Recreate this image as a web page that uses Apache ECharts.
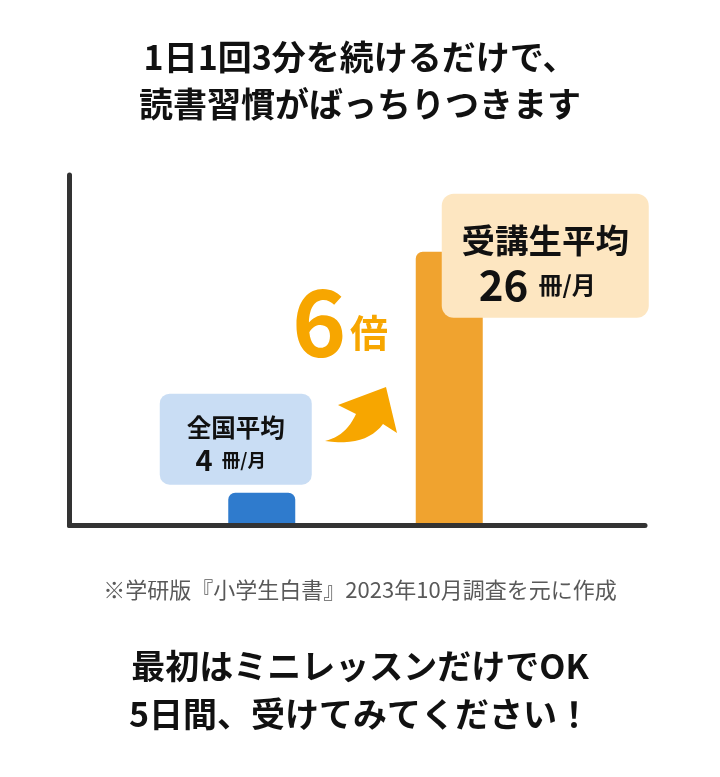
<!DOCTYPE html>
<html>
<head>
<meta charset="utf-8">
<script src="https://cdn.jsdelivr.net/npm/echarts@6/dist/echarts.min.js"></script>
<style>
html,body{margin:0;padding:0;background:#fff;}
#c{width:720px;height:777px;}
</style>
</head>
<body>
<div id="c"></div>
<script>
const categories = ['全国平均', '受講生平均'];
const values = [4, 26];
const unit = '冊/月';
const barColors = ['#2F7BCD', '#F0A32F'];
const boxColors = ['#C9DDF4', '#FDE6C1'];
const titleLines = ['1日1回3分を続けるだけで、', '読書習慣がばっちりつきます'];
const noteText = '※学研版『小学生白書』2023年10月調査を元に作成';
const bottomLines = ['最初はミニレッスンだけでOK', '5日間、受けてみてください！'];
const ratioText = ['6', '倍'];

const FONT = '"Noto Sans CJK JP", "Noto Sans", sans-serif';
const chart = echarts.init(document.getElementById('c'), null, {renderer: 'canvas'});

function quad(p0, c, p1, n) {
  const pts = [];
  for (let i = 1; i <= n; i++) {
    const t = i / n, u = 1 - t;
    pts.push([u*u*p0[0] + 2*u*t*c[0] + t*t*p1[0], u*u*p0[1] + 2*u*t*c[1] + t*t*p1[1]]);
  }
  return pts;
}
const arrowPts = [[325, 441]]
  .concat(quad([325, 441], [346, 436], [356, 414], 12))
  .concat([[338, 405], [386, 387], [397, 433], [383, 424]])
  .concat(quad([383, 424], [366, 447], [325, 441], 12).slice(0, -1));

const labelCfg = [
  {
    show: true, position: 'top', distance: 8, offset: [-26, 0],
    backgroundColor: boxColors[0], borderRadius: 10,
    width: 152, padding: [18, 0, 9, 0], align: 'center',
    formatter: p => '{a|' + p.name + '}\n{n|' + p.value + '}{u|' + unit + '}',
    rich: {
      a: {fontSize: 24.5, fontWeight: 'bold', color: '#111', lineHeight: 32, fontFamily: FONT, align: 'center'},
      n: {fontSize: 29, fontWeight: 'bold', color: '#111', lineHeight: 32, fontFamily: FONT, padding: [0, 9, 0, 0]},
      u: {fontSize: 18.5, fontWeight: 'bold', color: '#111', lineHeight: 32, fontFamily: FONT, padding: [0, 10, 0, 0]}
    }
  },
  {
    show: true, position: 'top', distance: 5, offset: [96, 71],
    backgroundColor: boxColors[1], borderRadius: 12,
    width: 207, padding: [24, 0, 10, 0], align: 'center',
    formatter: p => '{a|' + p.name + '}\n{n|' + p.value + '}{u|' + unit + '}',
    rich: {
      a: {fontSize: 33.5, fontWeight: 'bold', color: '#111', lineHeight: 45, fontFamily: FONT, align: 'center'},
      n: {fontSize: 42, fontWeight: 'bold', color: '#111', lineHeight: 45, fontFamily: FONT, padding: [0, 10, 0, 0]},
      u: {fontSize: 24, fontWeight: 'bold', color: '#111', lineHeight: 45, fontFamily: FONT, padding: [0, 16, 0, 0]}
    }
  }
];

const option = {
  backgroundColor: '#fff',
  animation: false,
  title: [
    {text: titleLines.join('\n'), left: 'center', top: 29,
     textStyle: {fontSize: 34, fontWeight: 'bold', color: '#111', lineHeight: 47, fontFamily: FONT}},
    {text: noteText, left: 'center', top: 572,
     textStyle: {fontSize: 22, fontWeight: 'normal', color: '#595959', lineHeight: 26, fontFamily: FONT}},
    {text: bottomLines.join('\n'), left: 'center', top: 637,
     textStyle: {fontSize: 34, fontWeight: 'bold', color: '#111', lineHeight: 48, fontFamily: FONT}}
  ],
  grid: [
    {left: 69.5, right: 75, top: 175, bottom: 251.5},
    {left: 168, width: 375, top: 175, bottom: 251.5}
  ],
  xAxis: [
    {gridIndex: 0, type: 'value', min: 0, max: 1, z: 10,
     axisLine: {show: true, lineStyle: {color: '#333', width: 5}},
     axisTick: {show: false}, axisLabel: {show: false}, splitLine: {show: false}},
    {gridIndex: 1, type: 'category', data: categories, show: false}
  ],
  yAxis: [
    {gridIndex: 0, type: 'value', min: 0, max: 1, z: 10,
     axisLine: {show: true, lineStyle: {color: '#333', width: 5}},
     axisTick: {show: false}, axisLabel: {show: false}, splitLine: {show: false}},
    {gridIndex: 1, type: 'value', min: 1, max: 33, show: false}
  ],
  series: [{
    type: 'bar', xAxisIndex: 1, yAxisIndex: 1, barWidth: 67,
    data: values.map((v, i) => ({
      value: v,
      itemStyle: {color: barColors[i], borderRadius: [7, 7, 0, 0]},
      label: labelCfg[i]
    }))
  }],
  graphic: [
    {type: 'text', x: 292, y: 276, z: 20,
     style: {text: ratioText[0], fill: '#F7A600', font: 'bold 92px ' + FONT}},
    {type: 'text', x: 350, y: 314, z: 20,
     style: {text: ratioText[1], fill: '#F7A600', font: 'bold 38px ' + FONT}},
    {type: 'polygon', z: 20,
     shape: {points: arrowPts},
     style: {fill: '#F7A600'}}
  ]
};
chart.setOption(option);
</script>
</body>
</html>
